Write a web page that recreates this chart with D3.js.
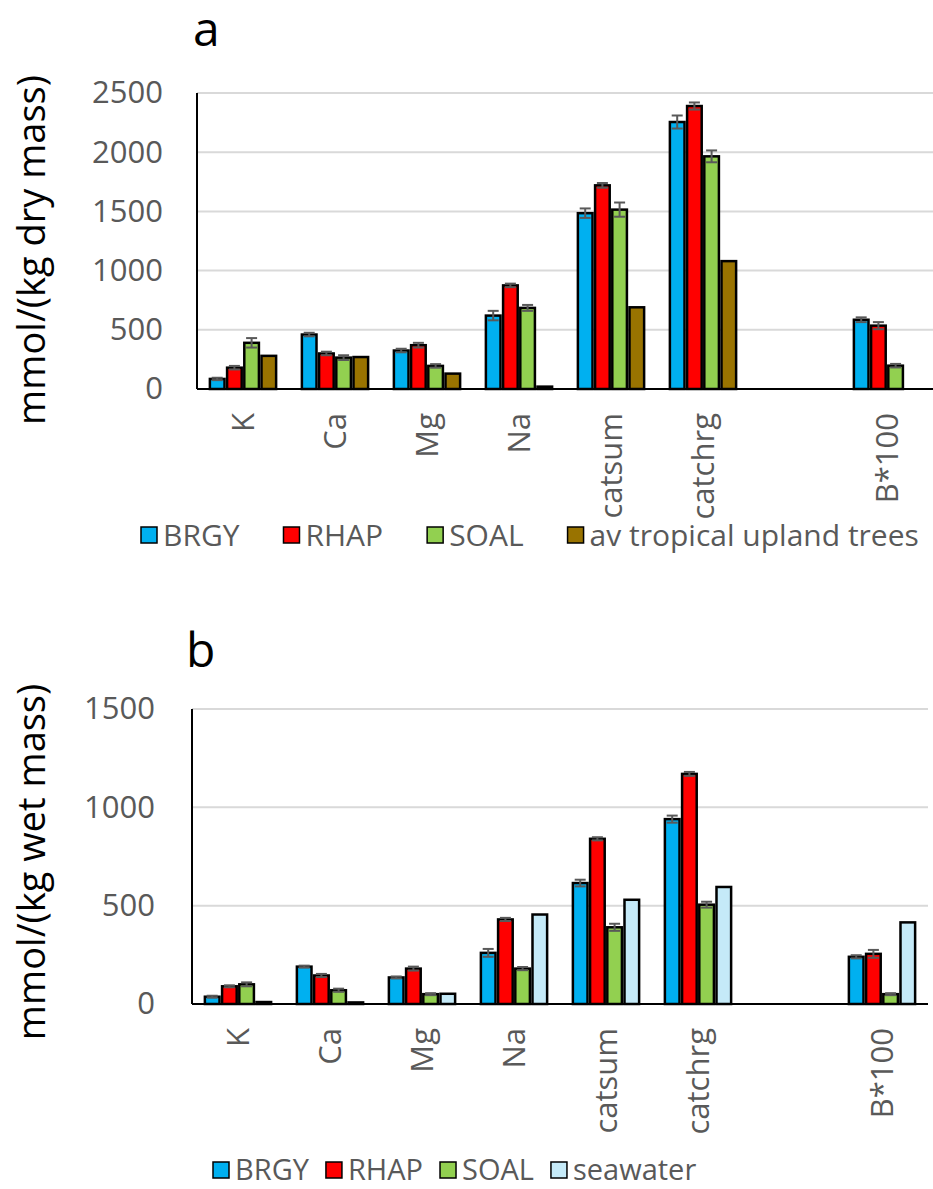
<!DOCTYPE html>
<html>
<head>
<meta charset="utf-8">
<script src="https://cdn.jsdelivr.net/npm/d3@7"></script>
<style>
  html, body { margin: 0; padding: 0; background: #fff; }
  svg { display: block; }
  text { font-family: "Open Sans", sans-serif; }
</style>
</head>
<body>
<svg id="chart" width="933" height="1189"></svg>
<script>
// Element categories; the blank slot separates the cation sums from B*100
const categories = ["K", "Ca", "Mg", "Na", "catsum", "catchrg", "", "B*100"];

// Panel a: mmol per kg dry mass
const namesDry = ["BRGY", "RHAP", "SOAL", "av tropical upland trees"];
const brgyDry     = [85, 460, 325, 620, 1485, 2255, null, 585];
const rhapDry     = [180, 300, 370, 875, 1720, 2390, null, 535];
const soalDry     = [390, 265, 195, 685, 1515, 1965, null, 197];
const uplandDry   = [280, 270, 130, 20, 690, 1080, null, null];
const brgyDryErr  = [10, 15, 15, 40, 40, 55, null, 20];
const rhapDryErr  = [15, 15, 20, 15, 20, 30, null, 30];
const soalDryErr  = [40, 20, 15, 25, 60, 50, null, 15];
const ticksDry    = [0, 500, 1000, 1500, 2000, 2500];

// Panel b: mmol per kg wet mass
const namesWet = ["BRGY", "RHAP", "SOAL", "seawater"];
const brgyWet     = [37, 190, 135, 260, 615, 940, null, 240];
const rhapWet     = [90, 145, 180, 430, 840, 1170, null, 255];
const soalWet     = [100, 70, 50, 180, 390, 505, null, 50];
const seawater    = [10, 8, 52, 455, 530, 595, null, 415];
const brgyWetErr  = [5, 5, 5, 20, 17, 18, null, 8];
const rhapWetErr  = [5, 8, 10, 8, 8, 10, null, 20];
const soalWetErr  = [10, 8, 5, 8, 18, 15, null, 5];
const ticksWet    = [0, 500, 1000, 1500];

const colorsDry = ["#00B0F0", "#FF0000", "#92D050", "#997300"];
const colorsWet = ["#00B0F0", "#FF0000", "#92D050", "#C5EAF8"];

const svg = d3.select("#chart");
svg.append("rect").attr("width", 933).attr("height", 1189).attr("fill", "#fff");

function drawPanel(opt) {
  const g = svg.append("g");
  const y = d3.scaleLinear().domain([0, d3.max(opt.ticks)]).range([opt.bottom, opt.top]);
  const x0 = d3.scaleBand().domain(categories).range([opt.left, opt.right])
    .paddingInner(0.28).paddingOuter(0.14);
  const x1 = d3.scaleBand().domain(opt.names).range([0, x0.bandwidth()]).paddingInner(0.15);

  // horizontal gridlines
  g.append("g").selectAll("line").data(opt.ticks.filter(t => t > 0)).join("line")
    .attr("x1", opt.left).attr("x2", opt.right)
    .attr("y1", d => y(d)).attr("y2", d => y(d))
    .attr("stroke", "#d9d9d9").attr("stroke-width", 2);

  // value axis labels
  const ya = g.append("g").attr("transform", `translate(${opt.left},0)`)
    .call(d3.axisLeft(y).tickValues(opt.ticks).tickSize(0).tickPadding(opt.tickPad).tickFormat(d3.format("d")));
  ya.select(".domain").remove();
  ya.attr("font-family", "Open Sans, sans-serif").attr("font-size", 31);
  ya.selectAll("text").attr("fill", "#595959");

  // bars
  const rows = [];
  opt.values.forEach((vals, i) => vals.forEach((v, j) => {
    if (v != null) rows.push({
      cat: categories[j], name: opt.names[i], v,
      err: opt.errors[i] ? opt.errors[i][j] : null, color: opt.colors[i]
    });
  }));
  g.append("g").selectAll("rect").data(rows).join("rect")
    .attr("x", d => x0(d.cat) + x1(d.name))
    .attr("width", x1.bandwidth())
    .attr("y", d => y(d.v))
    .attr("height", d => y(0) - y(d.v))
    .attr("fill", d => d.color)
    .attr("stroke", "#000").attr("stroke-width", 2.5);

  // error bars
  const eb = g.append("g").attr("stroke", "#595959").attr("stroke-width", 2);
  const withErr = rows.filter(d => d.err != null);
  const cx = d => x0(d.cat) + x1(d.name) + x1.bandwidth() / 2;
  eb.selectAll("line.stem").data(withErr).join("line").attr("class", "stem")
    .attr("x1", cx).attr("x2", cx)
    .attr("y1", d => y(d.v - d.err)).attr("y2", d => y(d.v + d.err));
  eb.selectAll("line.capTop").data(withErr).join("line").attr("class", "capTop")
    .attr("x1", d => cx(d) - 5.5).attr("x2", d => cx(d) + 5.5)
    .attr("y1", d => y(d.v + d.err)).attr("y2", d => y(d.v + d.err));
  eb.selectAll("line.capBot").data(withErr).join("line").attr("class", "capBot")
    .attr("x1", d => cx(d) - 5.5).attr("x2", d => cx(d) + 5.5)
    .attr("y1", d => y(d.v - d.err)).attr("y2", d => y(d.v - d.err));

  // axis lines
  g.append("line").attr("x1", opt.left).attr("x2", opt.left)
    .attr("y1", y(d3.max(opt.ticks))).attr("y2", y(0))
    .attr("stroke", "#000").attr("stroke-width", 2);
  g.append("line").attr("x1", opt.left).attr("x2", opt.right)
    .attr("y1", y(0)).attr("y2", y(0))
    .attr("stroke", "#000").attr("stroke-width", 2);

  // rotated category labels
  g.append("g").selectAll("text").data(categories.filter(c => c !== "")).join("text")
    .attr("transform", c => `translate(${x0(c) + x0.bandwidth() / 2},${opt.bottom + 24}) rotate(-90)`)
    .attr("text-anchor", "end").attr("dy", "0.35em")
    .attr("font-size", 31).attr("fill", "#595959")
    .text(c => c);

  // value axis title
  g.append("text")
    .attr("transform", `translate(${opt.titleX},${opt.titleY}) rotate(-90)`)
    .attr("text-anchor", "middle")
    .attr("font-size", 38).attr("fill", "#000")
    .text(opt.title);

  // panel letter
  g.append("text").attr("x", opt.letterX).attr("y", opt.letterY)
    .attr("font-size", 48).attr("fill", "#000").text(opt.letter);

  // legend
  const lg = g.append("g");
  let lx = opt.legendX;
  opt.names.forEach((name, i) => {
    lg.append("rect").attr("x", lx).attr("y", opt.legendY - 8).attr("width", 16).attr("height", 16)
      .attr("fill", opt.colors[i]).attr("stroke", "#000").attr("stroke-width", 1.5);
    const t = lg.append("text").attr("x", lx + 22).attr("y", opt.legendY).attr("dy", "0.35em")
      .attr("font-size", opt.legendFont).attr("fill", "#595959").text(name);
    lx += 22 + t.node().getComputedTextLength() + opt.legendGap;
  });
}

drawPanel({
  top: 93, bottom: 389, left: 197, right: 933, tickPad: 34,
  ticks: ticksDry, names: namesDry, colors: colorsDry,
  values: [brgyDry, rhapDry, soalDry, uplandDry],
  errors: [brgyDryErr, rhapDryErr, soalDryErr, null],
  title: "mmol/(kg dry mass)", titleX: 45, titleY: 250,
  letter: "a", letterX: 193, letterY: 46,
  legendX: 141, legendY: 535, legendGap: 44, legendFont: 30
});

drawPanel({
  top: 709, bottom: 1004, left: 192, right: 928, tickPad: 37,
  ticks: ticksWet, names: namesWet, colors: colorsWet,
  values: [brgyWet, rhapWet, soalWet, seawater],
  errors: [brgyWetErr, rhapWetErr, soalWetErr, null],
  title: "mmol/(kg wet mass)", titleX: 45, titleY: 862,
  letter: "b", letterX: 186, letterY: 667,
  legendX: 213, legendY: 1170, legendGap: 17, legendFont: 29
});
</script>
</body>
</html>
